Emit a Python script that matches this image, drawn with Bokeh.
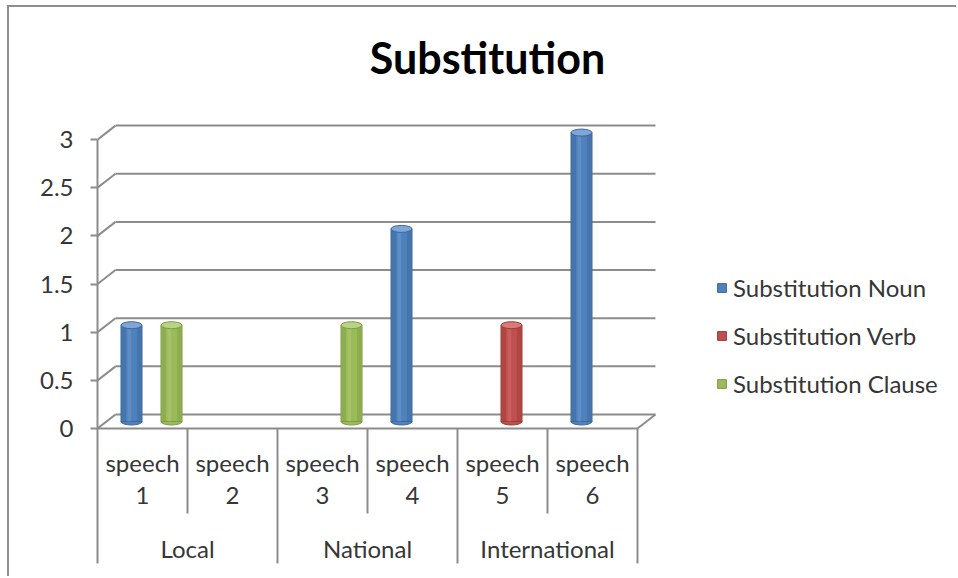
import numpy as np
from bokeh.plotting import figure
from bokeh.models import ColumnDataSource, Range1d, FixedTicker, Legend, LegendItem
from bokeh.core.properties import value
from bokeh.embed import file_html
from bokeh.resources import INLINE

# ---- data -------------------------------------------------------------
title_text = "Substitution"
speeches = ["speech 1", "speech 2", "speech 3", "speech 4", "speech 5", "speech 6"]
groups = ["Local", "National", "International"]
series_names = ["Substitution Noun", "Substitution Verb", "Substitution Clause"]
noun = [1, 0, 0, 2, 0, 3]
verb = [0, 0, 0, 0, 1, 0]
clause = [1, 0, 1, 0, 0, 0]
y_ticks = [0, 0.5, 1, 1.5, 2, 2.5, 3]
y_tick_labels = ["0", "0.5", "1", "1.5", "2", "2.5", "3"]

# ---- styling ------------------------------------------------------------
main_colors = ["#4f81bd", "#c0504d", "#9bbb59"]
edge_colors = ["#3b679c", "#9c3a37", "#7f9c44"]
light_colors = ["#7fa6d6", "#d87c79", "#b8d286"]
GRID = "#8c8c8c"
TEXT = "#363636"
FONT = "Lato"
FS = "24px"

# page geometry (pixels)
CANVAS_X, CANVAS_Y = 9, 7
W, H = 958 - CANVAS_X, 578 - CANVAS_Y
AXIS_PX = 97          # page x of the front value axis
FLOOR_PX = 428        # page y of the value 0 on the front plane
XU, YU = 90.0, 96.3   # pixels per category / per unit value


def dx(px):
    return px / XU


def dy(px):
    return px / YU


DEPTH_X, DEPTH_Y = dx(18), dy(14)       # depth of the back wall
BAR_W = dx(21)
CAP_H = dy(7)
OFFSETS = [-dx(20), 0.0, dx(20)]        # series spacing inside a category
TABLE_BOTTOM = -dy(563 - FLOOR_PX)
SHORT_BOTTOM = -dy(513 - FLOOR_PX)

p = figure(
    width=W, height=H,
    x_range=Range1d(0, dx(958 - AXIS_PX)),
    y_range=Range1d(-dy(578 - FLOOR_PX), dy(FLOOR_PX - CANVAS_Y)),
    x_axis_location=None,
    min_border_left=AXIS_PX - CANVAS_X, min_border_right=0,
    min_border_top=0, min_border_bottom=0,
    output_backend="svg", toolbar_location=None,
    background_fill_color="white", border_fill_color="white",
    outline_line_color=None,
    styles={"margin-left": "7px", "margin-top": "5px",
            "border-left": "2px solid #8e8e8e", "border-top": "2px solid #8e8e8e"},
)
p.grid.visible = False

# ---- value axis ---------------------------------------------------------
ax = p.yaxis[0]
ax.ticker = FixedTicker(ticks=y_ticks)
ax.major_label_overrides = {t: s for t, s in zip(y_ticks, y_tick_labels)}
ax.bounds = (TABLE_BOTTOM, y_ticks[-1])
ax.axis_line_color = GRID
ax.axis_line_width = 2
ax.major_tick_line_color = GRID
ax.major_tick_line_width = 2
ax.major_tick_out = 7
ax.major_tick_in = 0
ax.minor_tick_line_color = None
ax.major_label_standoff = 17
ax.major_label_text_font = FONT
ax.major_label_text_font_size = FS
ax.major_label_text_color = TEXT

n_cat = len(speeches)
ticks = np.array(y_ticks, dtype=float)

# back wall gridlines with their diagonal links to the front axis
p.segment(x0=np.zeros_like(ticks), y0=ticks, x1=np.full_like(ticks, DEPTH_X),
          y1=ticks + DEPTH_Y, line_color=GRID, line_width=2)
p.segment(x0=np.full_like(ticks, DEPTH_X), y0=ticks + DEPTH_Y,
          x1=np.full_like(ticks, n_cat + DEPTH_X), y1=ticks + DEPTH_Y,
          line_color=GRID, line_width=2)

# floor front edge and right edge
p.segment(x0=[0, n_cat], y0=[0, 0], x1=[n_cat, n_cat + DEPTH_X], y1=[0, DEPTH_Y],
          line_color=GRID, line_width=2)

# category table under the floor
per_group = n_cat // len(groups)
bounds = np.arange(1, n_cat + 1)
is_group_edge = bounds % per_group == 0
p.segment(x0=bounds, y0=np.zeros(n_cat), x1=bounds,
          y1=np.where(is_group_edge, TABLE_BOTTOM, SHORT_BOTTOM),
          line_color=GRID, line_width=2)

centers = np.arange(n_cat) + 0.5
words = [s.split(" ")[0] for s in speeches]
numbers = [s.split(" ")[1] for s in speeches]
p.text(x=centers, y=np.full(n_cat, -dy(462 - FLOOR_PX)), text=words,
       text_font=value(FONT), text_font_size=FS, text_color=TEXT,
       text_align="center", text_baseline="middle")
p.text(x=centers, y=np.full(n_cat, -dy(495 - FLOOR_PX)), text=numbers,
       text_font=value(FONT), text_font_size=FS, text_color=TEXT,
       text_align="center", text_baseline="middle")
group_centers = np.arange(len(groups)) * per_group + per_group / 2
p.text(x=group_centers, y=np.full(len(groups), -dy(548 - FLOOR_PX)), text=groups,
       text_font=value(FONT), text_font_size=FS, text_color=TEXT,
       text_align="center", text_baseline="middle")

# ---- cylinder bars --------------------------------------------------------
legend_items = []
for name, vals, off, c_main, c_edge, c_light in zip(
        series_names, [noun, verb, clause], OFFSETS, main_colors, edge_colors, light_colors):
    vals = np.array(vals, dtype=float)
    keep = vals > 0
    x = centers[keep] + off + DEPTH_X / 2
    base = np.full(keep.sum(), DEPTH_Y / 2)
    top = vals[keep] + DEPTH_Y / 2
    src = ColumnDataSource(dict(x=x, bottom=base, top=top))
    p.ellipse(x="x", y="bottom", width=BAR_W, height=CAP_H, source=src,
              fill_color=c_main, line_color=c_edge, line_width=1)
    r = p.vbar(x="x", bottom="bottom", top="top", width=BAR_W, source=src,
               fill_color=c_main, line_color=c_edge, line_width=1)
    p.vbar(x=x - BAR_W * 0.36, bottom=base, top=top, width=BAR_W * 0.2,
           fill_color=c_edge, fill_alpha=0.45, line_color=None)
    p.vbar(x=x + BAR_W * 0.36, bottom=base, top=top, width=BAR_W * 0.2,
           fill_color=c_edge, fill_alpha=0.45, line_color=None)
    p.vbar(x=x - BAR_W * 0.1, bottom=base, top=top, width=BAR_W * 0.18,
           fill_color=c_light, fill_alpha=0.35, line_color=None)
    p.ellipse(x="x", y="top", width=BAR_W, height=CAP_H, source=src,
              fill_color=c_light, line_color=c_edge, line_width=1)
    legend_items.append(LegendItem(label=name, renderers=[r]))

legend = Legend(
    items=legend_items, location=(716 - AXIS_PX, 578 - 407),
    glyph_width=11, glyph_height=11, label_standoff=6, spacing=0,
    label_height=48, padding=0, margin=0,
    border_line_color=None, background_fill_alpha=0,
    label_text_font=FONT, label_text_font_size=FS, label_text_color=TEXT,
)
p.add_layout(legend)

# ---- title ------------------------------------------------------------
p.text(x=[dx(487 - AXIS_PX)], y=[dy(FLOOR_PX - 57)], text=[title_text],
       text_font=value(FONT), text_font_style="bold", text_font_size="43px",
       text_color="black", text_align="center", text_baseline="middle")

open("out.html", "w").write(file_html(p, INLINE, title=title_text))
